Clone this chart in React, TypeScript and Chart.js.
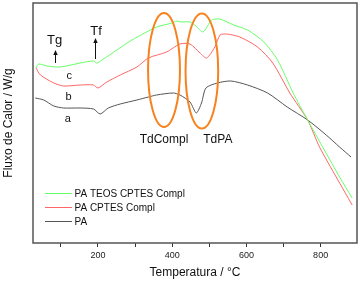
import React, { useEffect, useRef } from 'react';
import { Chart, registerables } from 'chart.js';

Chart.register(...registerables);

const FONT = '"Liberation Sans", Arial, Helvetica, sans-serif';

// Series labels / colours
const seriesLabels = ['PA TEOS CPTES Compl', 'PA CPTES Compl', 'PA'];
const seriesColors = ['#66ff66', '#ff6666', '#555555'];

// Curve c: PA TEOS CPTES Compl
const tempC = [33, 40, 63, 99, 152, 188, 197, 211, 251, 287, 336, 358, 399, 412, 424, 448, 464, 483, 506, 518, 529, 566, 603, 647, 684, 726, 765, 810, 851, 885];
const fluxC = [175, 179, 177, 176, 180, 182, 180, 183, 193, 202, 212, 216, 220, 222, 221, 221, 217, 211, 223, 224, 224, 218, 213, 201, 183, 150, 123, 93, 66, 45];

// Curve b: PA CPTES Compl
const tempB = [33, 45, 81, 108, 152, 188, 200, 224, 260, 305, 336, 385, 421, 448, 475, 493, 515, 529, 547, 582, 630, 671, 717, 765, 797, 842, 885];
const fluxB = [175, 168, 160, 157, 158, 158, 155, 161, 168, 176, 185, 191, 199, 199, 190, 185, 196, 208, 209, 206, 196, 180, 150, 123, 96, 66, 38];

// Curve a: PA
const tempA = [31, 54, 81, 108, 152, 188, 206, 228, 260, 305, 336, 358, 403, 421, 448, 465, 479, 491, 522, 558, 603, 657, 710, 765, 815, 851, 882];
const fluxA = [145, 143, 137, 135, 135, 134, 129, 135, 139, 143, 146, 148, 150, 148, 141, 130, 140, 155, 160, 162, 158, 150, 136, 123, 108, 96, 86];

// Axis
const xMin = 25;
const xMax = 898;
const yMin = 0;
const yMax = 240;
const xTickLabels = [200, 400, 600, 800];
const xTitle = 'Temperatura / °C';
const yTitle = 'Fluxo de Calor / W/g';

// Annotations (data coordinates)
const ellipseCenters = [[378, 173], [480, 172]];
const ellipseRadii = [[43, 57], [44, 57.5]];
const labelTexts = ['Tg', 'Tf', 'c', 'b', 'a', 'TdCompl', 'TdPA'];
const labelX = [83, 195, 123, 121, 119, 378, 523];
const labelY = [203, 212, 167, 146, 124, 103, 103];
const labelSizes = [13, 13, 11, 11, 11, 12, 12];
const arrowX = [83, 193];
const arrowFrom = [180, 184];
const arrowTo = [193, 205];

const toPoints = (xs: number[], ys: number[]) => xs.map((x, i) => ({ x, y: ys[i] }));

const overlayPlugin = {
  id: 'overlay',
  afterDatasetsDraw(chart: any) {
    const { ctx, chartArea, scales } = chart;
    const xs = scales.x;
    const ys = scales.y;
    ctx.save();

    // frame
    ctx.strokeStyle = '#555555';
    ctx.lineWidth = 1.5;
    ctx.strokeRect(chartArea.left, chartArea.top, chartArea.right - chartArea.left, chartArea.bottom - chartArea.top);

    // ellipses
    ctx.strokeStyle = '#f7821e';
    ctx.lineWidth = 2;
    ellipseCenters.forEach((c, i) => {
      const cx = xs.getPixelForValue(c[0]);
      const cy = ys.getPixelForValue(c[1]);
      const rx = Math.abs(xs.getPixelForValue(c[0] + ellipseRadii[i][0]) - cx);
      const ry = Math.abs(ys.getPixelForValue(c[1] + ellipseRadii[i][1]) - cy);
      ctx.beginPath();
      ctx.ellipse(cx, cy, rx, ry, 0, 0, Math.PI * 2);
      ctx.stroke();
    });

    // labels
    ctx.fillStyle = '#111111';
    ctx.textAlign = 'center';
    ctx.textBaseline = 'middle';
    labelTexts.forEach((t, i) => {
      ctx.font = `${labelSizes[i]}px ${FONT}`;
      ctx.fillText(t, xs.getPixelForValue(labelX[i]), ys.getPixelForValue(labelY[i]));
    });

    // arrows
    ctx.strokeStyle = '#111111';
    ctx.lineWidth = 1;
    arrowX.forEach((ax, i) => {
      const px = Math.round(xs.getPixelForValue(ax)) + 0.5;
      const y0 = ys.getPixelForValue(arrowFrom[i]);
      const y1 = ys.getPixelForValue(arrowTo[i]);
      ctx.beginPath();
      ctx.moveTo(px, y0);
      ctx.lineTo(px, y1 + 4);
      ctx.stroke();
      ctx.beginPath();
      ctx.moveTo(px, y1);
      ctx.lineTo(px - 2.2, y1 + 5);
      ctx.lineTo(px + 2.2, y1 + 5);
      ctx.closePath();
      ctx.fill();
    });

    // legend
    ctx.font = `10px ${FONT}`;
    ctx.textAlign = 'left';
    chart.data.datasets.forEach((ds: any, i: number) => {
      const ly = chartArea.bottom - 50 + i * 14;
      ctx.strokeStyle = ds.borderColor;
      ctx.lineWidth = 1;
      ctx.beginPath();
      ctx.moveTo(chartArea.left + 12, ly + 0.5);
      ctx.lineTo(chartArea.left + 39, ly + 0.5);
      ctx.stroke();
      ctx.fillStyle = '#111111';
      ctx.fillText(ds.label, chartArea.left + 41.5, ly + 1);
    });

    ctx.restore();
  },
};

export default function App() {
  const canvasRef = useRef<HTMLCanvasElement | null>(null);

  useEffect(() => {
    const canvas = canvasRef.current;
    if (!canvas) return;
    const chart = new Chart(canvas, {
      type: 'line',
      data: {
        datasets: [
          { label: seriesLabels[0], data: toPoints(tempC, fluxC), borderColor: seriesColors[0] },
          { label: seriesLabels[1], data: toPoints(tempB, fluxB), borderColor: seriesColors[1] },
          { label: seriesLabels[2], data: toPoints(tempA, fluxA), borderColor: seriesColors[2] },
        ].map((d) => ({ ...d, borderWidth: 1, pointRadius: 0, tension: 0.25, fill: false })),
      },
      options: {
        responsive: false,
        animation: false,
        devicePixelRatio: 1,
        layout: { padding: { top: 3, right: 5, left: 0, bottom: 0 } },
        plugins: { legend: { display: false }, tooltip: { enabled: false } },
        scales: {
          x: {
            type: 'linear',
            min: xMin,
            max: xMax,
            border: { display: false },
            grid: { display: true, drawOnChartArea: false, drawTicks: true, tickLength: 4, color: '#333333' },
            ticks: {
              stepSize: 100,
              includeBounds: false,
              autoSkip: false,
              maxRotation: 0,
              padding: 3,
              color: '#222222',
              font: { family: FONT, size: 9 },
              callback: (v: any) => (xTickLabels.includes(Number(v)) ? String(v) : ''),
            },
            title: {
              display: true,
              text: xTitle,
              color: '#111111',
              font: { family: FONT, size: 12 },
              padding: { top: 0, bottom: 5 },
            },
            afterFit: (s: any) => { s.height = 42; },
          },
          y: {
            type: 'linear',
            min: yMin,
            max: yMax,
            border: { display: false },
            grid: { display: false },
            ticks: { display: false },
            title: {
              display: true,
              text: yTitle,
              color: '#111111',
              font: { family: FONT, size: 12 },
              padding: { top: 1, bottom: 0 },
            },
            afterFit: (s: any) => { s.width = 33; },
          },
        },
      },
      plugins: [overlayPlugin],
    } as any);
    return () => chart.destroy();
  }, []);

  return (
    <div style={{ position: 'absolute', left: 0, top: 0, width: 362, height: 285, background: '#ffffff' }}>
      <canvas ref={canvasRef} width={362} height={285} style={{ display: 'block', width: 362, height: 285 }} />
    </div>
  );
}
